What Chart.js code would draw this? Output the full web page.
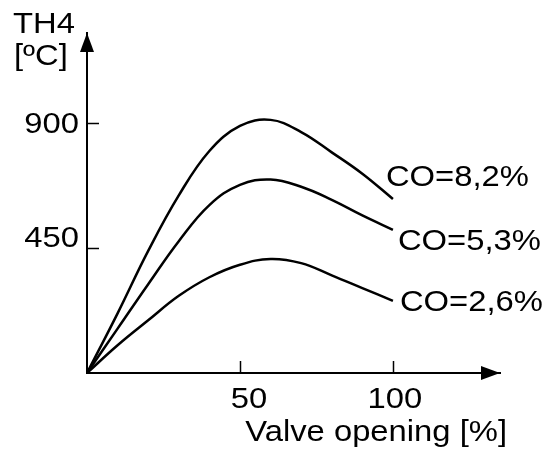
<!DOCTYPE html>
<html>
<head>
<meta charset="utf-8">
<script src="https://cdn.jsdelivr.net/npm/chart.js@4"></script>
<style>
  html, body { margin: 0; padding: 0; background: #fff; }
  #wrap { width: 547px; height: 450px; }
</style>
</head>
<body>
<div id="wrap"><canvas id="th4Chart"></canvas></div>
<script>
var valveOpening = [0, 10, 20, 30, 40, 50, 60, 70, 80, 90, 100];
var th4Co82 = [0, 215, 440, 640, 800, 890, 912, 868, 795, 718, 627];
var th4Co53 = [0, 160, 320, 475, 605, 678, 697, 671, 624, 568, 516];
var th4Co26 = [0, 100, 190, 278, 345, 390, 411, 396, 352, 306, 260];
var coLabels = ['CO=8,2%', 'CO=5,3%', 'CO=2,6%'];
var xTicks = [50, 100];
var yTicks = [450, 900];
var yTitle = ['TH4', '[ºC]'];
var xTitle = 'Valve opening [%]';

var FONT = '29px "Liberation Sans", Arial, Helvetica, sans-serif';
var STRETCH = 1.13;

function toPoints(ys){
  return ys.map(function(y, i){ return {x: valveOpening[i], y: y} })
}

// lettering is a bit wide, so squeeze it through a horizontal scale
function wideText(ctx, text, x, y, align){
  var w = ctx.measureText(text).width * STRETCH;
  var left = x;
  if(align == 'right') left = x - w;
  if(align == 'center') left = x - w / 2;
  ctx.save();
  ctx.translate(left, y);
  ctx.scale(STRETCH, 1);
  ctx.textAlign = 'left';
  ctx.fillText(text, 0, 0);
  ctx.restore();
}

// arrows, inner tick marks and all the lettering
var axisExtras = {
  id: 'axisExtras',
  afterDraw: function(chart){
    var ctx = chart.ctx;
    var xs = chart.scales.x, ys = chart.scales.y;
    var x0 = xs.getPixelForValue(0), y0 = ys.getPixelForValue(0);
    var xEnd = chart.chartArea.right, yEnd = chart.chartArea.top;
    ctx.save();
    ctx.fillStyle = '#000';
    ctx.strokeStyle = '#000';

    ctx.beginPath();
    ctx.moveTo(xEnd, y0);
    ctx.lineTo(xEnd - 19, y0 - 7);
    ctx.lineTo(xEnd - 19, y0 + 7);
    ctx.closePath();
    ctx.fill();

    ctx.beginPath();
    ctx.moveTo(x0, yEnd);
    ctx.lineTo(x0 - 7, yEnd + 19);
    ctx.lineTo(x0 + 7, yEnd + 19);
    ctx.closePath();
    ctx.fill();

    ctx.lineWidth = 1.5;
    xTicks.forEach(function(v){
      var px = Math.round(xs.getPixelForValue(v)) + 0.5;
      ctx.beginPath();
      ctx.moveTo(px, y0);
      ctx.lineTo(px, y0 - 12);
      ctx.stroke();
    });
    yTicks.forEach(function(v){
      var py = Math.round(ys.getPixelForValue(v)) + 0.5;
      ctx.beginPath();
      ctx.moveTo(x0, py);
      ctx.lineTo(x0 + 12, py);
      ctx.stroke();
    });

    ctx.font = FONT;
    ctx.textBaseline = 'alphabetic';

    wideText(ctx, yTitle[0], 13, 33, 'left');
    wideText(ctx, yTitle[1], 14, 65, 'left');

    var yLabelDy = [-1, 10];
    yTicks.forEach(function(v, i){
      wideText(ctx, String(v), x0 - 8, ys.getPixelForValue(v) + yLabelDy[i], 'right');
    });
    var xLabelDx = [9, 2];
    xTicks.forEach(function(v, i){
      wideText(ctx, String(v), xs.getPixelForValue(v) + xLabelDx[i], y0 + 35, 'center');
    });
    wideText(ctx, xTitle, xEnd + 7, 441, 'right');

    var offsets = [[-7, -13], [5, 20], [7, 10]];
    chart.data.datasets.forEach(function(ds, i){
      var meta = chart.getDatasetMeta(i);
      var last = meta.data[meta.data.length - 1];
      wideText(ctx, ds.label, last.x + offsets[i][0], last.y + offsets[i][1], 'left');
    });
    ctx.restore();
  }
};

function lineSet(label, ys){
  return {
    label: label,
    data: toPoints(ys),
    borderColor: '#000',
    borderWidth: 2.5,
    pointRadius: 0,
    fill: false,
    tension: 0.4
  }
}

var th4Chart = new Chart(document.getElementById('th4Chart'), {
  type: 'line',
  data: {
    datasets: [
      lineSet(coLabels[0], th4Co82),
      lineSet(coLabels[1], th4Co53),
      lineSet(coLabels[2], th4Co26)
    ]
  },
  options: {
    responsive: true,
    maintainAspectRatio: false,
    animation: false,
    layout: { padding: { top: 33, right: 47, left: 0, bottom: 0 } },
    plugins: {
      legend: { display: false },
      tooltip: { enabled: false }
    },
    scales: {
      x: {
        type: 'linear',
        min: 0,
        max: 135,
        afterBuildTicks: function(scale){
          scale.ticks = xTicks.map(function(v){ return {value: v} })
        },
        afterFit: function(scale){ scale.height = 77 },
        grid: { display: false },
        border: { display: true, color: '#000', width: 2 },
        ticks: { display: false }
      },
      y: {
        min: 0,
        max: 1225,
        afterBuildTicks: function(scale){
          scale.ticks = yTicks.map(function(v){ return {value: v} })
        },
        afterFit: function(scale){ scale.width = 87 },
        grid: { display: false },
        border: { display: true, color: '#000', width: 2 },
        ticks: { display: false }
      }
    }
  },
  plugins: [axisExtras]
});
</script>
</body>
</html>
